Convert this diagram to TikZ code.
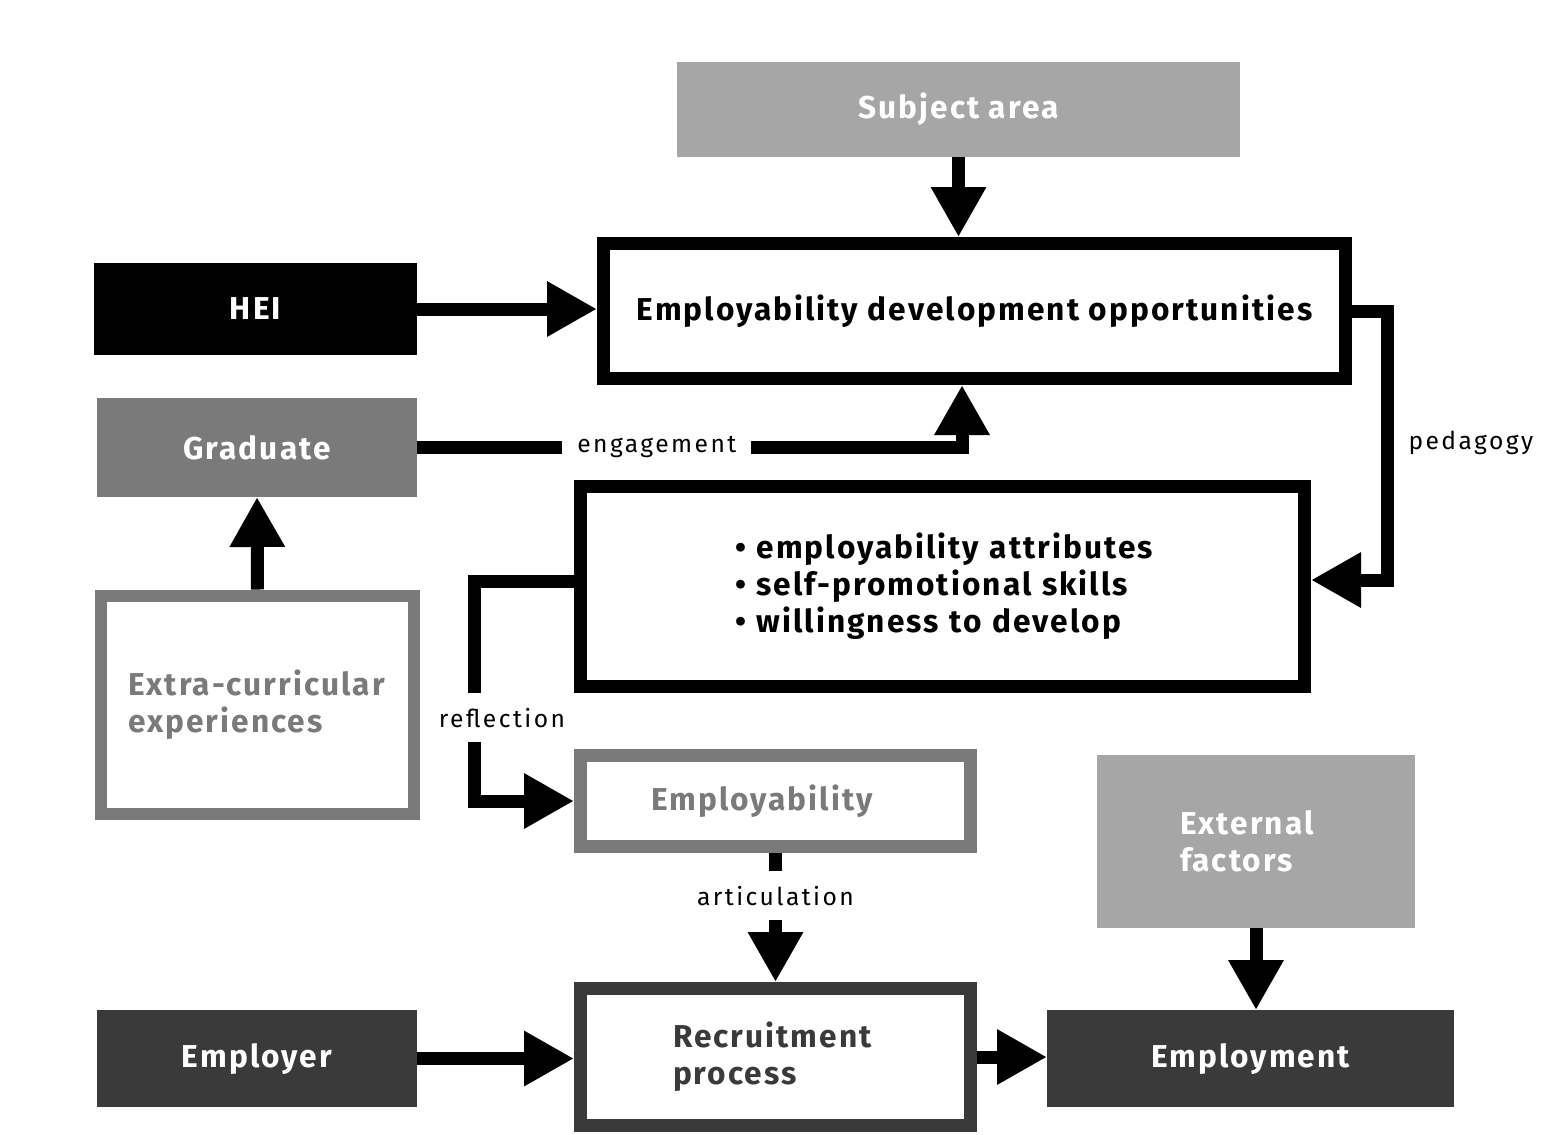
\documentclass[tikz,border=0pt]{standalone}
\usepackage{fontspec}
\setmainfont{Fira Sans}
\newfontfamily\boxfont[LetterSpace=6.5]{Fira Sans}
\newfontfamily\lblfont[LetterSpace=10]{Fira Sans}
\usetikzlibrary{arrows.meta}

\definecolor{lightgrey}{HTML}{A6A6A6}
\definecolor{midgrey}{HTML}{7A7A7A}
\definecolor{darkgrey}{HTML}{3A3A3A}

\begin{document}
\begin{tikzpicture}[
    box/.style={rectangle, inner sep=0pt, outer sep=0pt, align=center,
                font=\boxfont\bfseries\fontsize{9}{10.5}\selectfont},
    filled/.style={box, fill=#1, text=white},
    framed/.style={box, draw=#1, fill=white, line width=0.13cm, outer sep=0.065cm},
    arr/.style={line width=0.13cm, -{Triangle[width=0.52cm, length=0.5cm]}},
    lbl/.style={font=\lblfont\fontsize{7}{8}\selectfont, fill=white, inner sep=0.15cm}
]
    \useasboundingbox (0,0) rectangle (15.65,-11.34);

    % top row
    \node[filled=lightgrey, minimum width=5.63cm, minimum height=0.95cm] (subj) at (9.585,-1.095) {Subject area};
    \node[framed=black, minimum width=7.42cm, minimum height=1.35cm] (edo) at (9.745,-3.11) {Employability development opportunities};

    % left column
    \node[filled=black, minimum width=3.23cm, minimum height=0.92cm] (hei) at (2.555,-3.09) {HEI};
    \node[filled=midgrey, minimum width=3.20cm, minimum height=0.99cm] (grad) at (2.57,-4.475) {Graduate};
    \node[framed=midgrey, line width=0.12cm, text=midgrey, minimum width=3.13cm, minimum height=2.18cm,
          text width=2.59cm, align=left] (extra) at (2.575,-7.05) {Extra-curricular\\experiences};

    % middle
    \node[framed=black, minimum width=7.24cm, minimum height=2.0cm, text width=4.15cm, align=left] (attr) at (9.425,-5.865)
        {\textbullet\ employability attributes\\\textbullet\ self-promotional skills\\\textbullet\ willingness to develop};
    \node[framed=midgrey, text=midgrey, minimum width=3.90cm, minimum height=0.91cm,
          text width=2.49cm, align=left] (empl) at (7.755,-8.01) {Employability};
    \node[filled=lightgrey, minimum width=3.18cm, minimum height=1.73cm, text width=1.52cm, align=left] (ext) at (12.56,-8.415) {External\\factors};

    % bottom row
    \node[filled=darkgrey, minimum width=3.20cm, minimum height=0.97cm] (employer) at (2.57,-10.585) {Employer};
    \node[framed=darkgrey, text=darkgrey, minimum width=3.90cm, minimum height=1.37cm,
          text width=2.05cm, align=left] (recr) at (7.755,-10.57) {Recruitment\\process};
    \node[filled=darkgrey, minimum width=4.07cm, minimum height=0.97cm] (job) at (12.505,-10.585) {Employment};

    % connectors
    \draw[arr] (subj.south) -- (subj.south |- edo.north);
    \draw[arr] (hei.east) -- (hei.east -| edo.west);
    \draw[arr] (grad.east) -| ([xshift=-0.125cm]edo.south) node[lbl, pos=0.22] {engagement};
    \draw[arr] (edo.east) -- ++(0.35,0) |- ([yshift=0.065cm]attr.east) node[lbl, pos=0.246, right, fill=none] {pedagogy};
    \draw[arr] ([yshift=0.05cm]attr.west) -- ++(-1.0,0) |- (empl.west) node[lbl, pos=0.31, xshift=0.28cm] {reflection};
    \draw[arr] (extra.north) -- (grad.south);
    \draw[arr] (empl.south) -- (recr.north) node[lbl, pos=0.33] {articulation};
    \draw[arr] (ext.south) -- (ext.south |- job.north);
    \draw[arr] (employer.east) -- (employer.east -| recr.west);
    \draw[arr] (recr.east) -- (recr.east -| job.west);
\end{tikzpicture}
\end{document}
